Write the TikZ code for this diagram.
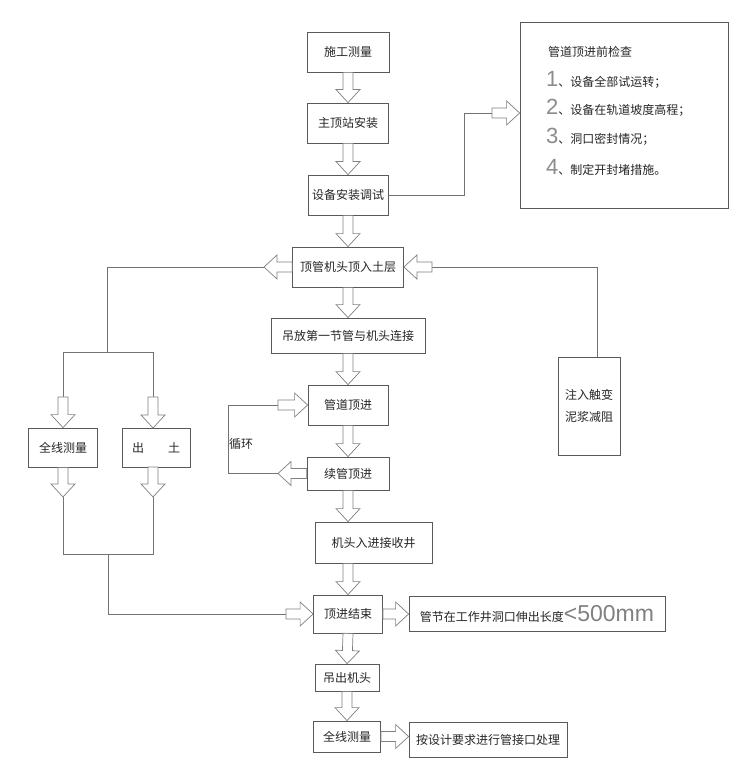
\documentclass[tikz,border=0pt]{standalone}
\usepackage{fontspec}
\setmainfont{Liberation Sans}
\newfontfamily\cjk{Noto Sans CJK SC}
\newfontfamily\thinf{Liberation Sans}
\usetikzlibrary{calc}
\newcommand{\blk}[2]{%
  \path ($(#2)!13pt!(#1)$) coordinate (bh);
  \draw[blkarrow] ($(#1)!5pt!90:(#2)$) -- ($(bh)!5pt!90:(#2)$) -- ($(bh)!12pt!90:(#2)$) -- (#2)
    -- ($(bh)!12pt!-90:(#2)$) -- ($(bh)!5pt!-90:(#2)$) -- ($(#1)!5pt!-90:(#2)$) -- cycle;}
\newcommand{\bignum}[1]{{\thinf\fontsize{22}{22}\selectfont\color{black!45}#1}}
\begin{document}
\begin{tikzpicture}[x=1pt,y=-1pt,
  box/.style={draw=black!65,line width=0.8pt,fill=white,inner sep=0pt,
    font=\cjk\fontsize{12}{15}\selectfont,text=black!85,align=center},
  conn/.style={draw=black!55,line width=0.8pt},
  blkarrow/.style={draw=black!50,line width=0.7pt,fill=white,line join=miter},
  txt/.style={font=\cjk\fontsize{12}{15}\selectfont,text=black!85,inner sep=0pt}]
\useasboundingbox[fill=white] (0,0) rectangle (750,762);
% main column
\node[box,minimum width=82pt,minimum height=40pt] (n1) at (348,52) {施工测量};
\node[box,minimum width=81pt,minimum height=40pt] (n2) at (348,123) {主顶站安装};
\node[box,minimum width=80pt,minimum height=40pt] (n3) at (348,195) {设备安装调试};
\node[box,minimum width=111pt,minimum height=40pt] (n4) at (348,267) {顶管机头顶入土层};
\node[box,minimum width=154pt,minimum height=35pt] (n5) at (348,335.5) {吊放第一节管与机头连接};
\node[box,minimum width=80pt,minimum height=40pt] (n6) at (348,405) {管道顶进};
\node[box,minimum width=82pt,minimum height=33pt] (n7) at (348,473.5) {续管顶进};
\node[box,minimum width=117pt,minimum height=41pt] (n8) at (373.5,542.5) {机头入进接收井};
\node[box,minimum width=69pt,minimum height=38pt] (n9) at (348,614) {顶进结束};
\node[box,minimum width=256pt,minimum height=35pt] (n10) at (537,614)
  {管节在工作井洞口伸出长度{\thinf\fontsize{23}{23}\selectfont\color{black!50}<500mm}};
\node[box,minimum width=64pt,minimum height=27pt] (n11) at (347,677.5) {吊出机头};
\node[box,minimum width=67pt,minimum height=31pt] (n12) at (347,736.5) {全线测量};
\node[box,minimum width=158pt,minimum height=35pt] (n13) at (488,739.5) {按设计要求进行管接口处理};
% side boxes
\node[box,minimum width=69pt,minimum height=39pt] (L1) at (63,447.5) {全线测量};
\node[box,minimum width=68pt,minimum height=39pt] (L2) at (156,447.5) {出\hspace{2em}土};
\node[box,minimum width=62pt,minimum height=98pt] (R) at (589,406) {注入触变\\[7pt]泥浆减阻};
\node[box,minimum width=208pt,minimum height=186pt] (chk) at (624,115) {};
\node[txt,anchor=west] (c0) at (548,52) {管道顶进前检查};
\node[txt,anchor=west] (c1) at (546,80) {\bignum{1}、设备全部试运转；};
\node[txt,anchor=west] (c2) at (546,108) {\bignum{2}、设备在轨道坡度高程；};
\node[txt,anchor=west] (c3) at (546,137) {\bignum{3}、洞口密封情况；};
\node[txt,anchor=west] (c4) at (546,167) {\bignum{4}、制定开封堵措施。};
\node[txt] (lbl) at (241,444) {循环};
% coordinates
\coordinate (t8) at (n7.south |- n8.north);
\coordinate (s8) at (n9.north |- n8.south);
\coordinate (t13) at (n12.east -| n13.west);
\coordinate (lp1) at (278,473.5);
\coordinate (lpL) at (228,473.5);
\coordinate (lpT) at (228,405);
\coordinate (lp3) at (278,405);
\coordinate (lA) at (264,267);
\coordinate (lB) at (107,267);
\coordinate (lC) at (107,352);
\coordinate (lD) at (63,352);
\coordinate (lE) at (153,352);
\coordinate (lD2) at (63,397);
\coordinate (lE2) at (153,397);
\coordinate (L2t) at (153,428);
\coordinate (L2b) at (153,467);
\coordinate (bD) at (63,497);
\coordinate (bE) at (153,497);
\coordinate (bG) at (63,554);
\coordinate (bH) at (153,554);
\coordinate (bI) at (108,554);
\coordinate (bJ) at (108,614);
\coordinate (bF) at (286,614);
\coordinate (rA) at (432,267);
\coordinate (rB) at (597,267);
\coordinate (Rt) at (597,357);
\coordinate (cA) at (464,195);
\coordinate (cB) at (464,113);
\coordinate (cC) at (492,113);
\coordinate (cD) at (chk.west |- cC);
% thin lines
\draw[conn] (n3.east) -- (cA) -- (cB) -- (cC);
\draw[conn] (lp1) -- (lpL) -- (lpT) -- (lp3);
\draw[conn] (lA) -- (lB) -- (lC);
\draw[conn] (lD2) -- (lD) -- (lE) -- (lE2);
\draw[conn] (bD) -- (bG) -- (bH) -- (bE);
\draw[conn] (bI) -- (bJ) -- (bF);
\draw[conn] (rA) -- (rB) -- (Rt);
% block arrows
\blk{n1.south}{n2.north}
\blk{n2.south}{n3.north}
\blk{n3.south}{n4.north}
\blk{n4.south}{n5.north}
\blk{n5.south}{n6.north}
\blk{n6.south}{n7.north}
\blk{n7.south}{t8}
\blk{s8}{n9.north}
\blk{n9.south}{n11.north}
\blk{n11.south}{n12.north}
\blk{n9.east}{n10.west}
\blk{n12.east}{t13}
\blk{cC}{cD}
\blk{n7.west}{lp1}
\blk{lp3}{n6.west}
\blk{n4.west}{lA}
\blk{rA}{n4.east}
\blk{lD2}{L1.north}
\blk{lE2}{L2t}
\blk{L1.south}{bD}
\blk{L2b}{bE}
\blk{bF}{n9.west}
\end{tikzpicture}
\end{document}
